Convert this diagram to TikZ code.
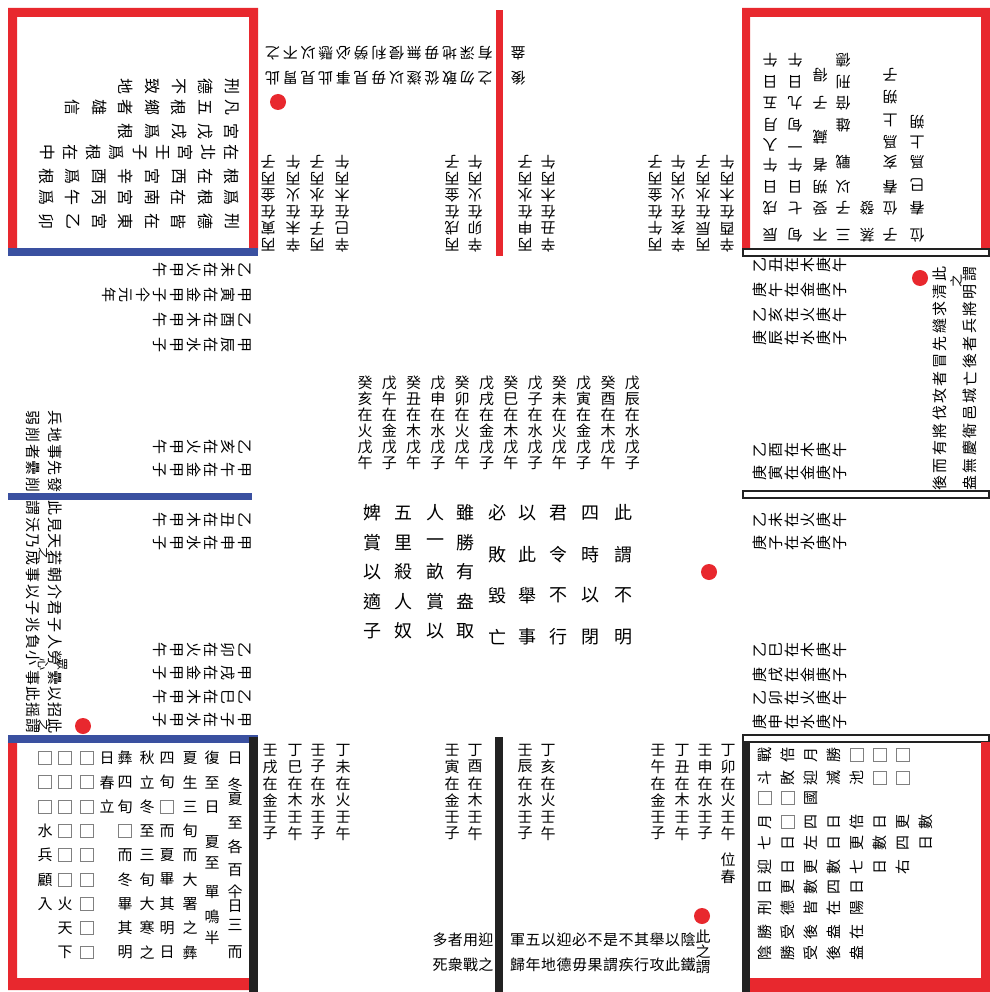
\documentclass[tikz,border=0pt]{standalone}
\usepackage{fontspec}
\usepackage{tikz}
\usetikzlibrary{calc}
\newfontfamily\cjk{Noto Sans CJK TC}
\definecolor{silkred}{HTML}{E8282E}
\definecolor{silkblue}{HTML}{3A50A0}
\definecolor{silkblack}{HTML}{222222}
% an empty square for a lost character
\newcommand{\bx}{{\color{gray}\setlength{\fboxsep}{0pt}\setlength{\fboxrule}{0.9pt}\fbox{\rule{0pt}{12pt}\rule{12pt}{0pt}}}}
% a row of characters: [size]{name}{first centre}{step}{rotation}{characters}
\newcommand{\strip}[6][15]{%
  \foreach \g [count=\k from 0] in {#6}
    \node[glyph, font=\cjk\fontsize{#1}{#1}\selectfont, rotate=#5] (#2-\k) at ($(#3)+\k*(#4)$) {\g};}

\begin{document}
\begin{tikzpicture}[x=1pt, y=-1pt]
    % Styles
    \tikzstyle{glyph} = [inner sep=0pt, text=black]
    \tikzstyle{rail} = [draw=silkblack, line width=1.6pt, fill=white]
    \tikzstyle{dot} = [fill=silkred]

    \useasboundingbox[fill=white] (0,0) rectangle (989,992);

    % Frame
    \fill[silkred] (8,8) rectangle (258,17) (8,8) rectangle (17,248) (249,8) rectangle (258,250);
    \fill[silkblue] (8,248) rectangle (258,256);
    \fill[silkred] (496,10) rectangle (503,256);
    \fill[silkred] (742,8) rectangle (990,17) (742,8) rectangle (750,250) (981,8) rectangle (990,250);
    \draw[rail] (743,249) rectangle (989,256);
    \fill[silkblue] (8,493) rectangle (252,500);
    \draw[rail] (743,491) rectangle (989,498);
    \fill[silkblue] (8,735) rectangle (258,743);
    \fill[silkred] (8,743) rectangle (17,990) (8,978) rectangle (249,990);
    \fill[silkblack] (249,737) rectangle (258,992);
    \fill[silkblack] (495,737) rectangle (503,992);
    \draw[rail] (743,735) rectangle (989,742);
    \fill[silkblack] (742,742) rectangle (750,992);
    \fill[silkred] (981,742) rectangle (990,978) (750,978) rectangle (990,992);

    % Red dots
    \fill[dot] (278,102) circle (8);
    \fill[dot] (920,278) circle (8);
    \fill[dot] (709,572) circle (8);
    \fill[dot] (83,726) circle (8);
    \fill[dot] (702,916) circle (8);

    % Centre
    \strip{c1}{365,383}{0,16}{0}{癸,亥,在,火,戊,午}
    \strip{c2}{389.3,383}{0,16}{0}{戊,午,在,金,戊,子}
    \strip{c3}{413.6,383}{0,16}{0}{癸,丑,在,木,戊,午}
    \strip{c4}{437.9,383}{0,16}{0}{戊,申,在,水,戊,子}
    \strip{c5}{462.2,383}{0,16}{0}{癸,卯,在,火,戊,午}
    \strip{c6}{486.5,383}{0,16}{0}{戊,戌,在,金,戊,子}
    \strip{c7}{510.8,383}{0,16}{0}{癸,巳,在,木,戊,午}
    \strip{c8}{535.1,383}{0,16}{0}{戊,子,在,水,戊,子}
    \strip{c9}{559.4,383}{0,16}{0}{癸,未,在,火,戊,午}
    \strip{c10}{583.7,383}{0,16}{0}{戊,寅,在,金,戊,子}
    \strip{c11}{608,383}{0,16}{0}{癸,酉,在,木,戊,午}
    \strip{c12}{632.3,383}{0,16}{0}{戊,辰,在,水,戊,子}
    \strip[18]{m1}{623,513}{0,41.3}{0}{此,謂,不,明}
    \strip[18]{m2}{590,513}{0,41.3}{0}{四,時,以,閉}
    \strip[18]{m3}{558,513}{0,41.3}{0}{君,令,不,行}
    \strip[18]{m4}{527,513}{0,41.3}{0}{以,此,舉,事}
    \strip[18]{m5}{497,513}{0,41.3}{0}{必,敗,毀,亡}
    \strip[18]{m6}{465,513}{0,29.5}{0}{雖,勝,有,盎,取}
    \strip[18]{m7}{435,513}{0,29.5}{0}{人,一,畝,賞,以}
    \strip[18]{m8}{403,513}{0,29.5}{0}{五,里,殺,人,奴}
    \strip[18]{m9}{372,513}{0,29.5}{0}{婢,賞,以,適,子}

    % Bottom arm
    \strip{b1}{270,750}{0,16.7}{0}{壬,戌,在,金,壬,子}
    \strip{b2}{295,750}{0,16.7}{0}{丁,巳,在,木,壬,午}
    \strip{b3}{318,750}{0,16.7}{0}{壬,子,在,水,壬,子}
    \strip{b4}{343,750}{0,16.7}{0}{丁,未,在,火,壬,午}
    \strip{b5}{452,750}{0,16.7}{0}{壬,寅,在,金,壬,子}
    \strip{b6}{475,750}{0,16.7}{0}{丁,酉,在,木,壬,午}
    \strip{b7}{525,750}{0,16.7}{0}{壬,辰,在,水,壬,子}
    \strip{b8}{548,750}{0,16.7}{0}{丁,亥,在,火,壬,午}
    \strip{b9}{658,750}{0,16.7}{0}{壬,午,在,金,壬,子}
    \strip{b10}{682,750}{0,16.7}{0}{丁,丑,在,木,壬,午}
    \strip{b11}{705,750}{0,16.7}{0}{壬,申,在,水,壬,子}
    \strip{b12}{728,750}{0,16.7}{0}{丁,卯,在,火,壬,午}
    \strip{b13}{728,860}{0,17}{0}{位,春}
    \strip{bl1}{440,940}{15.3,0}{0}{多,者,用,迎}
    \strip{bl2}{440,965}{15.3,0}{0}{死,衆,戰,之}
    \strip{br1}{517.5,940}{15.5,0}{0}{軍,五,以,迎,必,不,是,不,其,舉,以,陰}
    \strip{br2}{517.5,965}{15.5,0}{0}{歸,年,地,德,毋,果,謂,疾,行,攻,此,鐵}
    \strip{bend}{703,937}{0,15}{0}{此,之,謂}

    % Right arm
    \strip{r1}{760,265}{16,0}{90}{乙,丑,在,木,庚,午}
    \strip{r2}{760,290}{16,0}{90}{庚,午,在,金,庚,子}
    \strip{r3}{760,315}{16,0}{90}{乙,亥,在,火,庚,午}
    \strip{r4}{760,338}{16,0}{90}{庚,辰,在,水,庚,子}
    \strip{r5}{760,450}{16,0}{90}{乙,酉,在,木,庚,午}
    \strip{r6}{760,473}{16,0}{90}{庚,寅,在,金,庚,子}
    \strip{r7}{760,520}{16,0}{90}{乙,未,在,火,庚,午}
    \strip{r8}{760,543}{16,0}{90}{庚,子,在,水,庚,子}
    \strip{r9}{760,650}{16,0}{90}{乙,巳,在,木,庚,午}
    \strip{r10}{760,675}{16,0}{90}{庚,戌,在,金,庚,子}
    \strip{r11}{760,698}{16,0}{90}{乙,卯,在,火,庚,午}
    \strip{r12}{760,722}{16,0}{90}{庚,申,在,水,庚,子}
    \strip{rl1}{940,483}{0,-17.4}{90}{後,而,有,將,伐,攻,者,冒,先,縫,求,清,此}
    \strip{rl2}{970,483}{0,-17.4}{90}{盎,無,慶,衛,邑,城,亡,後,者,兵,將,明,謂}
    \node[glyph, font=\cjk\fontsize{13}{13}\selectfont, rotate=90] (rl3) at (956,281) {之};

    % Left arm
    \strip{l1}{245,270}{-17,0}{-90}{乙,未,在,火,甲,午}
    \strip{l2}{245,295}{-17,0}{-90}{甲,寅,在,金,甲,子,仐,元,年}
    \strip{l3}{245,320}{-17,0}{-90}{乙,酉,在,木,甲,午}
    \strip{l4}{245,345}{-17,0}{-90}{甲,辰,在,水,甲,子}
    \strip{l5}{245,447}{-17,0}{-90}{乙,亥,在,火,甲,午}
    \strip{l6}{245,470}{-17,0}{-90}{甲,午,在,金,甲,子}
    \strip{l7}{245,520}{-17,0}{-90}{乙,丑,在,木,甲,午}
    \strip{l8}{245,543}{-17,0}{-90}{甲,申,在,水,甲,子}
    \strip{l9}{245,650}{-17,0}{-90}{乙,卯,在,火,甲,午}
    \strip{l10}{245,673}{-17,0}{-90}{甲,戌,在,金,甲,子}
    \strip{l11}{245,697}{-17,0}{-90}{乙,巳,在,木,甲,午}
    \strip{l12}{245,720}{-17,0}{-90}{甲,子,在,水,甲,子}
    \strip{ll1}{55,418}{0,16.75}{-90}{兵,地,事,先,發}
    \strip{ll2}{33,418}{0,16.75}{-90}{弱,削,者,纍,削}
    \strip{ll3}{55,508}{0,16.7}{-90}{此,見,天,若,朝,介,君,子,人,勞}
    \strip{ll4}{33,508}{0,16.7}{-90}{謂,沃,乃,成,事,以,子,兆,負,小}
    \strip{ll5}{55,678}{0,16}{-90}{纍,以,招,此}
    \strip{ll6}{33,678}{0,16}{-90}{事,此,摇,謂}
    \strip[12]{ll7}{44,553}{0,172}{-90}{之,之}
    \strip[12]{ll8}{62,664}{-19,0}{-90}{眾,心}

    % Top arm
    \strip{t1}{268,245}{0,-16.6}{180}{丙,寅,在,金,丙,子}
    \strip{t2}{293,245}{0,-16.6}{180}{辛,未,在,火,丙,午}
    \strip{t3}{317,245}{0,-16.6}{180}{丙,子,在,水,丙,子}
    \strip{t4}{342,245}{0,-16.6}{180}{辛,巳,在,木,丙,午}
    \strip{t5}{452,245}{0,-16.6}{180}{丙,戌,在,金,丙,子}
    \strip{t6}{475,245}{0,-16.6}{180}{辛,卯,在,火,丙,午}
    \strip{t7}{525,245}{0,-16.6}{180}{丙,申,在,水,丙,子}
    \strip{t8}{548,245}{0,-16.6}{180}{辛,丑,在,木,丙,午}
    \strip{t9}{655,245}{0,-16.6}{180}{丙,午,在,金,丙,子}
    \strip{t10}{678,245}{0,-16.6}{180}{辛,亥,在,火,丙,午}
    \strip{t11}{703,245}{0,-16.6}{180}{丙,辰,在,水,丙,子}
    \strip{t12}{727,245}{0,-16.6}{180}{辛,酉,在,木,丙,午}
    \strip{tl1}{485,78}{-17.7,0}{180}{之,勿,敢,從,遂,以,毋,見,事,此,見,胃,此}
    \strip{tl2}{485,53}{-17.7,0}{180}{有,深,地,毋,無,侵,利,勞,必,懸,以,不,之}
    \strip{tr1}{518,78}{0,-25}{180}{後,盎}

    % Top-left box
    \strip[16]{q1}{232,222}{-26.5,0}{-90}{刑,德,皆,在,東,宮,乙,卯}
    \strip[16]{q2}{232,198}{-26.5,0}{-90}{爲,根,在,南,宮,丙,午,爲}
    \strip[16]{q3}{232,177}{-26.5,0}{-90}{根,在,西,宮,辛,酉,爲,根}
    \strip[16]{q4}{232,153}{-23,0}{-90}{在,北,宮,壬,子,爲,根,在,中}
    \strip[16]{q5}{232,132}{-26.5,0}{-90}{宮,戊,戌,爲,根}
    \strip[16]{q6}{232,108}{-26.5,0}{-90}{凡,五,根,鄉,者,雄,信}
    \strip[16]{q7}{232,87}{-26.5,0}{-90}{刑,德,不,致,地}

    % Top-right box
    \foreach \g/\y [count=\k] in {辰/235,戌/208,日/187,午/165,入/145,月/125,五/103,日/82,午/60}
        \node[glyph, font=\cjk\fontsize{15}{15}\selectfont, rotate=180] (p1-\k) at (770,\y) {\g};
    \foreach \g/\y [count=\k] in {旬/235,七/208,日/187,午/165,一/145,旬/125,九/103,日/82,午/60}
        \node[glyph, font=\cjk\fontsize{15}{15}\selectfont, rotate=180] (p2-\k) at (795,\y) {\g};
    \foreach \g/\y [count=\k] in {不/235,受/208,朔/187,者/165,藏/137,子/103,得/75}
        \node[glyph, font=\cjk\fontsize{15}{15}\selectfont, rotate=180] (p3-\k) at (820,\y) {\g};
    \foreach \g/\y [count=\k] in {三/235,子/208,以/187,戰/162,雄/125,倍/103,刑/82,德/60}
        \node[glyph, font=\cjk\fontsize{15}{15}\selectfont, rotate=180] (p4-\k) at (843,\y) {\g};
    \foreach \g/\y [count=\k] in {蒸/235,發/208}
        \node[glyph, font=\cjk\fontsize{15}{15}\selectfont, rotate=180] (p5-\k) at (867,\y) {\g};
    \foreach \g/\y [count=\k] in {子/235,位/208,春/187,亥/162,爲/142,上/120,朔/97,子/75}
        \node[glyph, font=\cjk\fontsize{15}{15}\selectfont, rotate=180] (p6-\k) at (890,\y) {\g};
    \foreach \g/\y [count=\k] in {位/235,春/208,巳/185,爲/162,上/142,朔/122}
        \node[glyph, font=\cjk\fontsize{15}{15}\selectfont, rotate=180] (p7-\k) at (917,\y) {\g};

    % Bottom-right box
    \strip{s1}{765,755}{23,0}{90}{戰,倍,月,勝,\bx,\bx,\bx}
    \strip{s2}{765,778}{23,0}{90}{斗,敗,迎,滅,池,\bx,\bx}
    \strip{s3}{765,798}{23,0}{90}{\bx,\bx,國}
    \strip{s4}{765,822}{23,0}{90}{月,\bx,四,日,倍,日,更,數}
    \strip{s5}{765,843}{23,0}{90}{七,日,左,日,更,數,四,日}
    \strip{s6}{765,867}{23,0}{90}{迎,日,更,數,七,日,右}
    \strip{s7}{765,887}{23,0}{90}{日,更,數,四,日}
    \strip{s8}{765,908}{23,0}{90}{刑,德,皆,在,陽}
    \strip{s9}{765,932}{23,0}{90}{勝,受,後,盎,在}
    \strip{s10}{765,953}{23,0}{90}{陰,勝,受,後,盎}

    % Bottom-left box
    \foreach \g/\y [count=\k] in {日/758,冬/785,夏/799,至/823,各/847,百/870,仐/892,日/906,三/925,而/952}
        \node[glyph, font=\cjk\fontsize{15}{15}\selectfont] (v1-\k) at (235,\y) {\g};
    \foreach \g/\y [count=\k] in {復/758,至/783,日/807,夏/842,至/863,單/892,鳴/917,半/938}
        \node[glyph, font=\cjk\fontsize{15}{15}\selectfont] (v2-\k) at (212,\y) {\g};
    \strip{v3}{190,758}{0,24.3}{0}{夏,生,三,旬,而,大,署,之,彝}
    \strip{v4}{167,758}{0,24.3}{0}{四,旬,\bx,而,夏,畢,其,明,日}
    \strip{v5}{147,758}{0,24.3}{0}{秋,立,冬,至,三,旬,大,寒,之}
    \strip{v6}{125,758}{0,24.3}{0}{彝,四,旬,\bx,而,冬,畢,其,明}
    \strip{v7}{107,758}{0,24.3}{0}{日,春,立}
    \strip{v8}{87,758}{0,24.3}{0}{\bx,\bx,\bx,\bx,\bx,\bx,\bx,\bx,\bx}
    \strip{v9}{65,758}{0,24.3}{0}{\bx,\bx,\bx,\bx,\bx,\bx,火,天,下}
    \strip{v10}{45,758}{0,24.3}{0}{\bx,\bx,\bx,水,兵,顧,入}
\end{tikzpicture}
\end{document}
